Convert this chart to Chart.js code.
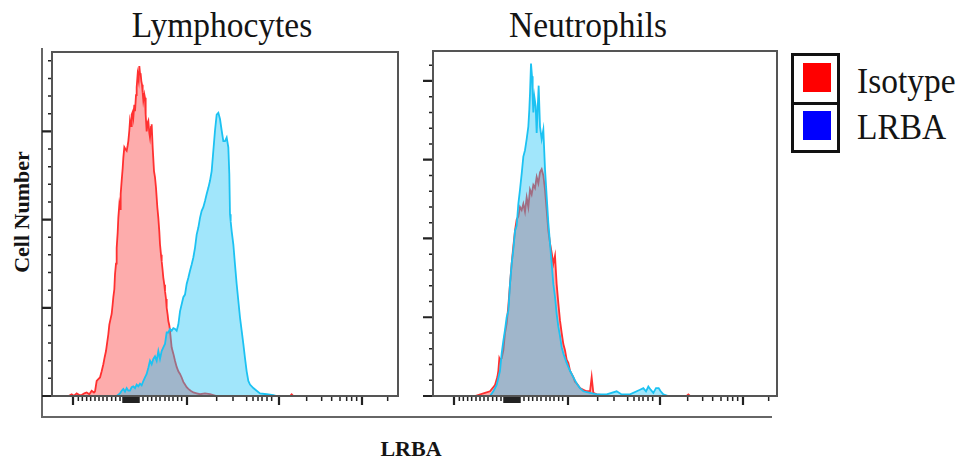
<!DOCTYPE html>
<html>
<head>
<meta charset="utf-8">
<script src="https://cdn.jsdelivr.net/npm/chart.js@4.4.0/dist/chart.umd.min.js"></script>
<style>
  html, body { margin: 0; padding: 0; background: #fff; }
  body { width: 963px; height: 462px; position: relative; overflow: hidden;
         font-family: "Liberation Serif", "Times New Roman", serif; color: #141414; }
  canvas { position: absolute; }
  .t { position: absolute; white-space: nowrap; line-height: 1; }
  .title { font-size: 36px; top: 7px; transform: translateX(-50%) scaleX(0.93); }
  .leg { font-size: 36px; left: 857px; transform: scaleX(0.93); transform-origin: left top; }
  .axt { font-size: 22px; font-weight: bold; }
  #frame { position: absolute; left: 41px; top: 48px; width: 729px; height: 368px;
           border-left: 2px solid #666; border-bottom: 2px solid #666; }
  #legend { position: absolute; left: 791px; top: 53px; width: 49px; height: 100px;
            box-sizing: border-box; border: 3px solid #111; }
  #legend .sep { position: absolute; left: 0; top: 46px; width: 100%; height: 3px; background: #111; }
  #legend .sw { position: absolute; left: 9px; width: 28px; height: 29px; }
</style>
</head>
<body>
<div id="frame"></div>

<div class="t title" style="left:222px">Lymphocytes</div>
<div class="t title" style="left:588px">Neutrophils</div>

<div id="legend">
  <div class="sw" style="top:7px;background:#ff0000"></div>
  <div class="sep"></div>
  <div class="sw" style="top:55px;background:#0000ff"></div>
</div>
<div class="t leg" style="top:63px">Isotype</div>
<div class="t leg" style="top:109px">LRBA</div>

<div class="t axt" style="left:22px;top:212px;transform:translate(-50%,-50%) rotate(-90deg)">Cell Number</div>
<div class="t axt" style="left:411px;top:438px;transform:translateX(-50%)">LRBA</div>

<canvas id="lymph" width="370" height="372" style="left:40px;top:40px"></canvas>
<canvas id="neut" width="368" height="373" style="left:421px;top:39px"></canvas>

<script>
// LRBA fluorescence channel (display scale) and cell counts

// Lymphocytes - Isotype
const lymIsoCh = [50,59,66,74,82,89,97,104,112,119,126,129,134,139,144,149,154,158,162,166,
  169,172,176,179,182,184,187,189,192,194,197,199,202,204,206,209,212,214,217,220,
  224,227,229,232,234,237,239,242,244,247,249,252,254,257,260,262,264,266,268,270,
  272,274,277,279,281,284,287,289,292,294,297,299,302,306,309,312,316,319,322,324,
  327,329,332,334,337,339,342,344,347,349,352,354,359,364,369,374,379,384,389,394,
  399,404,409,416,424,434,444,459,474,484,494,714,719,724];
const lymIsoCount = [0,2,0,3,1,1,3,4,2,6,4,5,17,19,21,28,36,44,51,62,
  70,81,88,93,104,112,121,138,150,168,185,202,217,212,229,244,258,270,282,280,
  278,284,289,301,312,306,319,322,316,330,323,341,350,365,358,374,366,365,357,353,
  344,335,342,338,319,300,310,312,298,293,305,308,282,255,248,236,214,202,186,172,
  160,153,142,134,126,119,110,100,92,85,80,74,55,48,40,33,28,25,21,16,
  13,10,8,6,4,3,2,3,2,1,0,0,2,0];

// Lymphocytes - LRBA
const lymLrbaCh = [194,204,209,214,219,224,229,234,239,244,249,254,259,264,269,274,279,284,289,294,
  299,304,309,314,319,324,329,334,339,344,349,354,359,364,369,374,379,384,389,394,
  399,404,409,414,419,424,429,434,439,444,449,454,459,464,469,474,479,484,489,494,
  499,504,509,514,519,524,529,532,534,536,539,544,549,554,559,564,569,574,579,584,
  589,594,604,614,624,644,664,674];
const lymLrbaCount = [0,3,6,8,5,9,6,6,10,11,9,13,11,14,12,17,21,25,32,40,
  36,42,45,40,51,42,51,55,59,72,72,76,74,77,76,74,81,96,104,112,
  115,127,134,142,149,157,168,183,191,202,210,214,221,229,236,244,255,278,301,319,
  321,314,301,289,289,293,282,251,206,198,187,172,149,127,108,89,74,59,43,28,
  17,13,9,6,3,2,1,0];

// Neutrophils - Isotype
const neuIsoCh = [126,156,171,186,193,196,199,201,206,211,216,221,226,231,236,241,246,251,256,261,
  266,271,276,281,286,291,296,301,306,311,316,321,326,331,336,341,346,351,356,361,
  366,371,376,381,386,391,396,401,406,411,416,421,426,431,441,451,461,471,476,481,
  491,531,761,766,771];
const neuIsoCount = [0,2,3,7,12,16,24,23,24,29,40,46,57,71,84,95,105,112,114,120,
  118,122,117,126,120,131,128,134,132,139,135,142,144,140,131,118,105,97,91,84,
  89,71,59,48,40,33,29,23,21,16,14,12,9,8,5,4,3,3,12,2,
  1,0,0,1,0];

// Neutrophils - LRBA
const neuLrbaCh = [171,181,191,201,206,211,216,221,226,231,236,241,246,251,256,261,266,271,276,281,
  286,289,291,294,297,299,301,304,308,311,314,317,321,326,331,336,341,346,351,356,
  361,366,371,376,381,386,391,401,411,421,431,441,451,471,491,521,551,566,591,621,
  631,639,646,653,661,669,677,683,691,706];
const neuLrbaCount = [0,3,7,16,27,35,42,50,54,71,84,93,105,108,122,131,141,152,156,163,
  171,182,192,211,203,190,180,190,184,167,182,197,171,163,169,144,127,110,97,84,
  71,63,52,44,38,31,27,21,16,12,8,5,3,2,1,1,3,1,1,4,
  5,3,6,4,2,5,5,3,1,0];

// axis tick marks (channels / counts)
const xMajorTicks = [63, 405, 681, 930];
const xZeroTicks = [213, 217, 221, 225, 229, 233, 237, 241, 245, 249, 253, 257, 261];
const xMinorTicks = [79, 91, 104, 116, 129, 141, 153, 165, 179, 191, 204,
  273, 287, 299, 312, 324, 339, 351, 363, 377, 389,
  494, 543, 584, 603, 618, 630, 645, 659,
  764, 809, 839, 864, 884, 899, 914, 1007];
const lymYMajor = [0, 100, 200, 300];
const lymYMinor = [20, 40, 60, 80, 120, 140, 160, 180, 220, 240, 260, 280, 320, 340, 360, 380];
const neuYMajor = [0, 50, 100, 150, 200];
const neuYMinor = [10, 20, 30, 40, 60, 70, 80, 90, 110, 120, 130, 140, 160, 170, 180, 190, 210];

const pts = (xs, ys) => xs.map((x, i) => ({ x: x, y: ys[i] }));

const frameTicks = {
  id: 'frameTicks',
  afterDatasetsDraw(chart, args, opts) {
    const ctx = chart.ctx, a = chart.chartArea;
    const x = chart.scales.x, y = chart.scales.y;
    const xt = (vals, len) => vals.forEach(v => {
      const p = x.getPixelForValue(v);
      ctx.moveTo(p, a.bottom); ctx.lineTo(p, a.bottom + len);
    });
    const yt = (vals, len) => vals.forEach(v => {
      const p = y.getPixelForValue(v);
      ctx.moveTo(a.left, p); ctx.lineTo(a.left - len, p);
    });
    ctx.save();
    ctx.strokeStyle = '#222';
    ctx.lineWidth = 1.5;
    ctx.beginPath();
    xt(xZeroTicks, 7);
    xt(xMinorTicks, 5);
    yt(opts.yMinor, 4);
    ctx.stroke();
    ctx.lineWidth = 2.2;
    ctx.beginPath();
    xt(xMajorTicks, 9);
    yt(opts.yMajor, 10);
    ctx.stroke();
    ctx.strokeStyle = '#555';
    ctx.lineWidth = 2;
    ctx.strokeRect(a.left, a.top, a.right - a.left, a.bottom - a.top);
    ctx.restore();
  }
};

function histChart(id, xMax, yMax, iso, lrba, yMajor, yMinor) {
  return new Chart(document.getElementById(id), {
    type: 'line',
    data: {
      datasets: [
        { label: 'LRBA', data: lrba, borderColor: '#1cc2f2', backgroundColor: 'rgba(30,195,245,0.42)',
          fill: 'origin', borderWidth: 1.8, pointRadius: 0, tension: 0 },
        { label: 'Isotype', data: iso, borderColor: '#ff3030', backgroundColor: 'rgba(250,70,70,0.45)',
          fill: 'origin', borderWidth: 1.8, pointRadius: 0, tension: 0 }
      ]
    },
    options: {
      responsive: false,
      animation: false,
      events: [],
      layout: { padding: { left: 12, top: 12, right: 12, bottom: 16 } },
      scales: {
        x: { type: 'linear', min: 0, max: xMax, display: false },
        y: { type: 'linear', min: 0, max: yMax, display: false }
      },
      plugins: {
        legend: { display: false },
        tooltip: { enabled: false },
        frameTicks: { yMajor: yMajor, yMinor: yMinor }
      }
    },
    plugins: [frameTicks]
  });
}

histChart('lymph', 1038, 390, pts(lymIsoCh, lymIsoCount), pts(lymLrbaCh, lymLrbaCount), lymYMajor, lymYMinor);
histChart('neut', 1032, 219, pts(neuIsoCh, neuIsoCount), pts(neuLrbaCh, neuLrbaCount), neuYMajor, neuYMinor);
</script>
</body>
</html>
